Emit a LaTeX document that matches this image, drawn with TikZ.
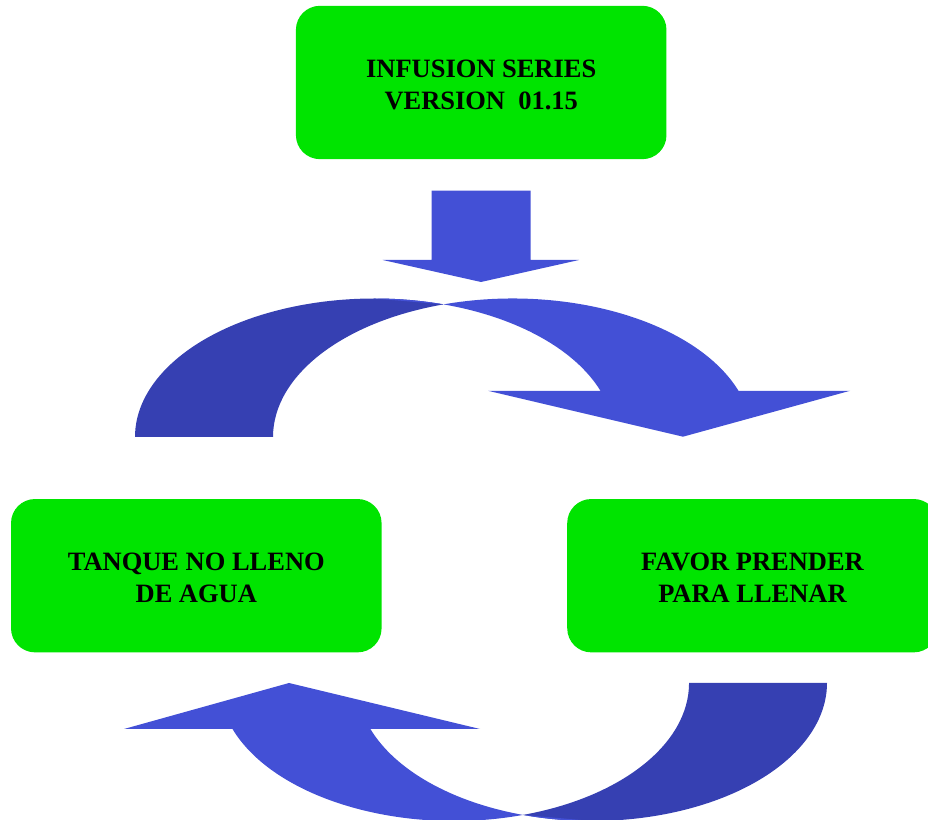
\documentclass[tikz,border=0pt]{standalone}
\usepackage{fontspec}
\setmainfont{Liberation Serif}
\definecolor{boxgreen}{RGB}{0,228,0}
\definecolor{arrowlight}{RGB}{67,80,214}
\definecolor{arrowdark}{RGB}{54,64,178}
\begin{document}
\begin{tikzpicture}[x=0.75pt,y=0.75pt,
  panel/.style={fill=boxgreen, rounded corners=18pt, minimum width=277.9pt,
    minimum height=115pt, inner sep=0pt},
  paneltext/.style={align=center, inner sep=0pt, yshift=-1.8pt,
    font=\fontsize{19.85}{24}\selectfont\bfseries},
  front/.style={fill=arrowlight},
  back/.style={fill=arrowdark}]
\useasboundingbox (0,0) rectangle (928,820);
\clip (0,0) rectangle (928,820);

% message panels
\node[panel, label={[paneltext]center:{INFUSION SERIES\\VERSION~~01.15}}]
  (start) at (481.2,737.5) {};
\node[panel, label={[paneltext]center:{TANQUE NO LLENO\\DE AGUA}}]
  (tank) at (196.3,244.3) {};
\node[panel, label={[paneltext]center:{FAVOR PRENDER\\PARA LLENAR}}]
  (fill) at (752.5,244.3) {};

% straight block arrow below the title panel
\fill[front] (431.7,629.3) -- (530.7,629.3) -- (530.7,560) -- (579,560)
  -- (481,538) -- (382.7,560) -- (431.7,560) -- cycle;

% upper curved arrow: back band, then front band with head
\fill[back] (135,383)
  arc[start angle=180,end angle=73.26,x radius=239.6,y radius=138.5]
  arc[start angle=106.74,end angle=180,x radius=239.6,y radius=138.5] -- cycle;
\fill[front] (374.6,521.5)
  arc[start angle=90,end angle=73.26,x radius=239.6,y radius=138.5]
  arc[start angle=106.74,end angle=19.5,x radius=239.6,y radius=138.5]
  -- (850,429.2) -- (683,383.3) -- (488,429.2) -- (600.45,429.2)
  arc[start angle=19.5,end angle=73.26,x radius=239.6,y radius=138.5] -- cycle;

% lower curved arrow: back band, then front band with head
\fill[back] (827,137)
  arc[start angle=0,end angle=-107.07,x radius=235,y radius=138]
  arc[start angle=-72.93,end angle=0,x radius=235,y radius=138] -- cycle;
\fill[front] (592,-1)
  arc[start angle=-90,end angle=-107.07,x radius=235,y radius=138]
  arc[start angle=-72.93,end angle=-160.53,x radius=235,y radius=138]
  -- (124,91) -- (289,137) -- (480,91) -- (370.4,91)
  arc[start angle=-160.53,end angle=-107.07,x radius=235,y radius=138] -- cycle;
\end{tikzpicture}
\end{document}
